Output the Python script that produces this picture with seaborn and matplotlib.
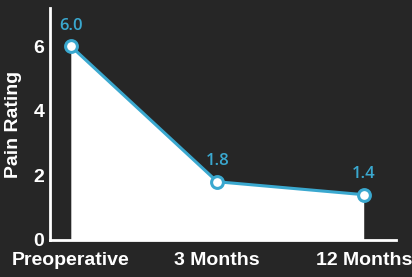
import matplotlib
matplotlib.use("Agg")
import matplotlib.pyplot as plt
import seaborn as sns
import pandas as pd

timepoints = ["Preoperative", "3 Months", "12 Months"]
pain = [6.0, 1.8, 1.4]
value_labels = ["6.0", "1.8", "1.4"]
yticks = [0, 2, 4, 6]

bg = "#262626"
line_c = "#3aa8cf"

sns.set_style("dark")
plt.rcParams["font.family"] = ["Liberation Sans", "DejaVu Sans"]

df = pd.DataFrame({"x": range(len(timepoints)), "pain": pain})

fig = plt.figure(figsize=(4.12, 2.77), dpi=100, facecolor=bg)
ax = fig.add_axes([0.121, 0.134, 0.840, 0.837])
ax.set_facecolor(bg)

ax.fill_between(df["x"], 0, df["pain"], color="white", zorder=1, linewidth=0)
sns.lineplot(data=df, x="x", y="pain", ax=ax, color=line_c, linewidth=2.2,
             marker="o", markersize=8.5, markerfacecolor="white",
             markeredgecolor=line_c, markeredgewidth=2.2, zorder=3)

for xi, yi, lab in zip(df["x"], df["pain"], value_labels):
    ax.annotate(lab, (xi, yi), xytext=(0, 9), textcoords="offset points",
                ha="center", va="bottom", color=line_c, fontsize=12,
                fontweight="semibold", family=["Open Sans", "DejaVu Sans"])

ax.set_xlim(-0.143, 2.22)
ax.set_ylim(0, 7.18)
ax.set_xticks(range(len(timepoints)))
ax.set_xticklabels(timepoints)
ax.set_yticks(yticks)
ax.set_xlabel("")
ax.set_ylabel("Pain Rating", color="white", fontsize=14, fontweight="bold", labelpad=8)
ax.grid(False)

for s in ["top", "right"]:
    ax.spines[s].set_visible(False)
for s in ["left", "bottom"]:
    ax.spines[s].set_visible(True)
    ax.spines[s].set_color("white")
    ax.spines[s].set_linewidth(2)
ax.tick_params(axis="x", colors="white", direction="out", length=5, width=2,
               labelsize=14, pad=4)
ax.tick_params(axis="y", colors="white", direction="out", length=0, width=2,
               labelsize=14, pad=4)
for t in ax.get_xticklabels() + ax.get_yticklabels():
    t.set_fontweight("bold")

fig.savefig("out.png", dpi=100, facecolor=bg)
